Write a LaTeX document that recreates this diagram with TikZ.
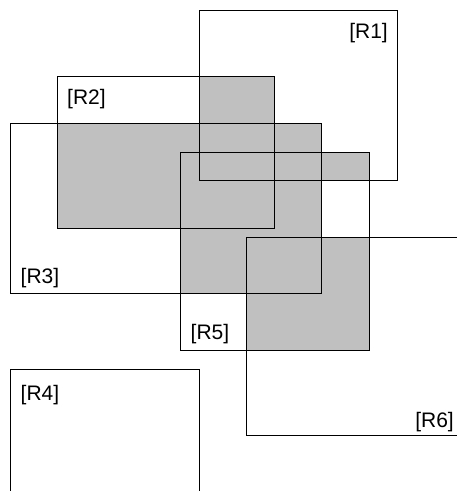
\documentclass[tikz,border=0pt]{standalone}
\usepackage{fontspec}
\setmainfont{Liberation Sans}
\definecolor{shade}{RGB}{192,192,192}
\begin{document}
\begin{tikzpicture}[x=1pt,y=-1pt,
  box/.style={draw=black,line width=0.9pt},
  hit/.style={fill=shade},
  lab/.style={inner sep=0pt,font=\fontsize{21}{25}\selectfont}]
\useasboundingbox (0,0) rectangle (457,491);
\clip (0,0) rectangle (457,491);
% overlap regions (pairwise intersections)
\fill[hit] (199,76) rectangle (274.5,180);
\fill[hit] (199,123) rectangle (321.5,180);
\fill[hit] (199,152) rectangle (369,180);
\fill[hit] (57,123) rectangle (274.5,228);
\fill[hit] (180,152) rectangle (274.5,228);
\fill[hit] (180,152) rectangle (321.5,293.5);
\fill[hit] (246,237) rectangle (321.5,293.5);
\fill[hit] (246,237) rectangle (369,350);
% rectangles
\draw[box] (199,10) rectangle (397,180);
\draw[box] (57,76) rectangle (274.5,228);
\draw[box] (10,123) rectangle (321.5,293.5);
\draw[box] (10,369.5) rectangle (199,520);
\draw[box] (180,152) rectangle (369,350);
\draw[box] (246,237) rectangle (480,435);
% labels
\node[lab,anchor=base east] (l1) at (388,38) {[R1]};
\node[lab,anchor=base west] (l2) at (67,104) {[R2]};
\node[lab,anchor=base west] (l3) at (20.5,283) {[R3]};
\node[lab,anchor=base west] (l4) at (20.5,400.5) {[R4]};
\node[lab,anchor=base west] (l5) at (190.5,339) {[R5]};
\node[lab,anchor=base east] (l6) at (454,427.5) {[R6]};
\end{tikzpicture}
\end{document}
